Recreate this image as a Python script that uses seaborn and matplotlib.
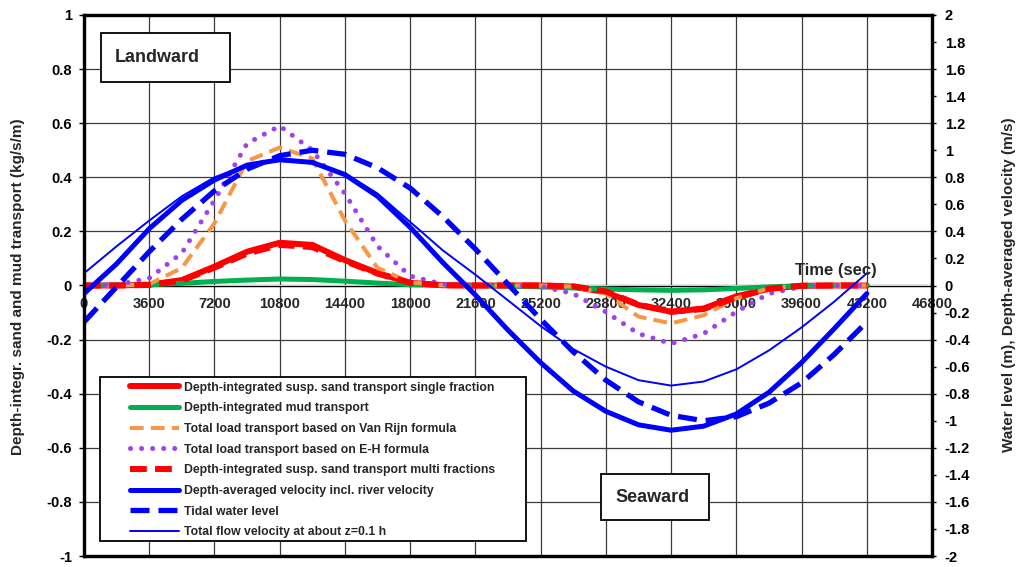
import numpy as np
import pandas as pd
import matplotlib
matplotlib.use("Agg")
import matplotlib.pyplot as plt
from matplotlib.lines import Line2D
from matplotlib.patches import Rectangle
import seaborn as sns

# ---- data -------------------------------------------------------------
time_s = [0, 1800, 3600, 5400, 7200, 9000, 10800, 12600, 14400, 16200, 18000,
          19800, 21600, 23400, 25200, 27000, 28800, 30600, 32400, 34200, 36000,
          37800, 39600, 41400, 43200]

# sediment transport (kg/s/m), left axis
susp_sand_single = [0, 0, 0.003, 0.02, 0.07, 0.125, 0.158, 0.150, 0.094, 0.046, 0.010,
                    0.001, 0, 0, 0, -0.004, -0.025, -0.072, -0.097, -0.085, -0.040,
                    -0.012, -0.001, 0, 0]
mud_transport = [0, 0.001, 0.003, 0.008, 0.015, 0.020, 0.024, 0.022, 0.016, 0.009, 0.003,
                 0.001, 0, -0.002, -0.005, -0.009, -0.013, -0.016, -0.018, -0.016, -0.011,
                 -0.005, -0.001, 0, 0]
total_load_vanrijn = [0, 0, 0.005, 0.065, 0.23, 0.46, 0.51, 0.47, 0.24, 0.065, 0.012,
                      0.001, 0, 0, 0, -0.004, -0.03, -0.115, -0.14, -0.11, -0.047,
                      -0.01, -0.001, 0, 0]
total_load_eh = [0, 0.003, 0.027, 0.12, 0.315, 0.525, 0.59, 0.50, 0.34, 0.145, 0.035,
                 0.005, 0, 0, -0.003, -0.03, -0.098, -0.178, -0.215, -0.178, -0.097,
                 -0.03, -0.004, 0, 0]
susp_sand_multi = [0, 0, 0.002, 0.018, 0.066, 0.118, 0.150, 0.142, 0.090, 0.044, 0.010,
                   0.001, 0, 0, 0, -0.003, -0.022, -0.070, -0.097, -0.087, -0.045,
                   -0.012, -0.001, 0, 0]

# hydrodynamics (m and m/s), right axis
depth_avg_velocity = [-0.06, 0.16, 0.42, 0.63, 0.78, 0.89, 0.93, 0.91, 0.82, 0.66, 0.43,
                      0.17, -0.07, -0.33, -0.57, -0.78, -0.93, -1.03, -1.07, -1.04, -0.95,
                      -0.79, -0.57, -0.32, -0.06]
tidal_water_level = [-0.27, -0.01, 0.25, 0.49, 0.70, 0.86, 0.96, 1.00, 0.97, 0.87, 0.72,
                     0.51, 0.27, 0.01, -0.25, -0.49, -0.70, -0.86, -0.96, -1.00, -0.97,
                     -0.87, -0.72, -0.51, -0.27]
near_bed_velocity = [0.09, 0.29, 0.48, 0.66, 0.80, 0.89, 0.92, 0.91, 0.83, 0.68, 0.47,
                     0.26, 0.08, -0.11, -0.30, -0.47, -0.60, -0.70, -0.74, -0.71, -0.62,
                     -0.48, -0.31, -0.12, 0.09]

labels = [
    "Depth-integrated susp. sand transport single fraction",
    "Depth-integrated mud transport",
    "Total load transport based on Van Rijn formula",
    "Total load transport based on E-H formula",
    "Depth-integrated susp. sand transport multi fractions",
    "Depth-averaged velocity incl. river velocity",
    "Tidal water level",
    "Total flow velocity at about z=0.1 h",
]

x_ticks = list(range(0, 46801, 3600))

df = pd.DataFrame({
    "t": time_s,
    "single": susp_sand_single,
    "mud": mud_transport,
    "vanrijn": total_load_vanrijn,
    "eh": total_load_eh,
    "multi": susp_sand_multi,
    "vel": depth_avg_velocity,
    "wl": tidal_water_level,
    "vel01": near_bed_velocity,
})

# ---- style ------------------------------------------------------------
sns.set_theme(style="white")
plt.rcParams["font.family"] = ["Liberation Sans", "DejaVu Sans"]
plt.rcParams["font.weight"] = "bold"

W, H = 1022, 567
fig = plt.figure(figsize=(W / 100, H / 100), dpi=100)
x0, x1, y0, y1 = 84, 932, 15, 556
ax = fig.add_axes([x0 / W, 1 - y1 / H, (x1 - x0) / W, (y1 - y0) / H])
ax2 = ax.twinx()
ax2.set_zorder(ax.get_zorder() + 1)
ax2.patch.set_visible(False)

red, green, orange, purple, blue = "#FF0000", "#00B050", "#F79646", "#A040F0", "#0000FF"
left_specs = [
    ("single", red, 4.3, "-", {}),
    ("mud", green, 3.6, "-", {}),
    ("vanrijn", orange, 2.9, (0, (3.4, 1.8)), {}),
    ("eh", purple, 3.6, (0, (0.01, 2.2)), {"dash_capstyle": "round"}),
    ("multi", red, 4.3, (0, (2.8, 1.4)), {}),
]
handles = []
for (col, c, lw, ls, extra), lab in zip(left_specs, labels[:5]):
    sns.lineplot(data=df, x="t", y=col, ax=ax, color=c, linewidth=lw,
                 linestyle=ls, **extra)
    handles.append(Line2D([], [], color=c, lw=lw, linestyle=ls, **extra))

right_specs = [
    ("vel", blue, 3.6, "-"),
    ("wl", blue, 3.8, (0, (3.6, 1.7))),
    ("vel01", blue, 1.4, "-"),
]
for (col, c, lw, ls), lab in zip(right_specs, labels[5:]):
    sns.lineplot(data=df, x="t", y=col, ax=ax2, color=c, linewidth=lw, linestyle=ls)
    handles.append(Line2D([], [], color=c, lw=lw, linestyle=ls))

# ---- axes ---------------------------------------------------------------
def fmt(v):
    v = round(float(v), 1)
    return "0" if v == 0 else f"{v:g}"

ax.set_xlim(0, 46800)
ax.set_ylim(-1, 1)
ax2.set_ylim(-2, 2)
ax.set_xticks(x_ticks)
left_ticks = np.round(np.arange(-1, 1.001, 0.2), 1)
right_ticks = np.round(np.arange(-2, 2.001, 0.2), 1)
ax.set_yticks(left_ticks)
ax.set_yticklabels([fmt(v) for v in left_ticks])
ax2.set_yticks(right_ticks)
ax2.set_yticklabels([fmt(v) for v in right_ticks])
ax.grid(True, color="#3c3c3c", linewidth=0.9)
ax2.grid(False)
ax.tick_params(axis="x", length=0, labelbottom=False)
ax.tick_params(axis="y", direction="out", length=3.6, width=1, pad=5,
               labelsize=10.5, left=True, colors="black")
ax2.tick_params(axis="y", direction="out", length=3.2, width=1, pad=6,
                labelsize=10.5, right=True, colors="black")
for a in (ax, ax2):
    for s in a.spines.values():
        s.set_color("black")
        s.set_linewidth(2.3)
    a.set_xlabel("")
    a.set_ylabel("")

# time axis drawn through the zero line, labels underneath the curves
sec = ax.secondary_xaxis(0.5)
sec.set_zorder(1)
sec.xaxis.set_ticks_position("bottom")
sec.set_xticks(x_ticks)
sec.set_xticklabels([str(v) for v in x_ticks], fontsize=10.5, fontweight="bold")
sec.tick_params(axis="x", length=0, pad=8.5, labelbottom=True, labeltop=False,
                bottom=True, top=False)
for name, s in sec.spines.items():
    s.set_visible(name == "bottom")
sec.spines["bottom"].set_linewidth(1.0)
sec.spines["bottom"].set_color("black")

fig.text(18 / W, 1 - 287 / H, "Depth-integr. sand and mud transport (kg/s/m)",
         rotation=90, ha="center", va="center", fontsize=11, fontweight="bold")
fig.text(1009 / W, 1 - 285 / H, "Water level (m), Depth-averaged velocity (m/s)",
         rotation=90, ha="center", va="center", fontsize=11, fontweight="bold")
fig.text(836 / W, 1 - 271 / H, "Time (sec)", ha="center", va="center",
         fontsize=12, fontweight="bold")

# annotation boxes
def boxed(xa, ya, xb, yb, text, tx):
    fig.patches.append(Rectangle((xa / W, 1 - yb / H), (xb - xa) / W, (yb - ya) / H,
                                 transform=fig.transFigure, facecolor="white",
                                 edgecolor="black", linewidth=1.3, zorder=5))
    fig.text(tx / W, 1 - (ya + yb) / 2 / H, text, ha="left", va="center",
             fontsize=13, fontweight="bold", zorder=6)

boxed(101, 33, 230, 82, "Landward", 115)
boxed(601, 474, 709, 520, "Seaward", 615)

# legend box
fig.patches.append(Rectangle((100 / W, 1 - 541 / H), 426 / W, 164 / H,
                             transform=fig.transFigure, facecolor="white",
                             edgecolor="black", linewidth=1.3, zorder=5))
leg = fig.legend(handles, labels, loc="upper left",
                 bbox_to_anchor=(126 / W, 1 - 378 / H), frameon=False,
                 fontsize=8.8, handlelength=4.0, handletextpad=0.45,
                 labelspacing=0.71, borderpad=0.3, borderaxespad=0)
leg.set_zorder(7)
for t in leg.get_texts():
    t.set_fontweight("bold")

fig.savefig("out.png", dpi=100)
